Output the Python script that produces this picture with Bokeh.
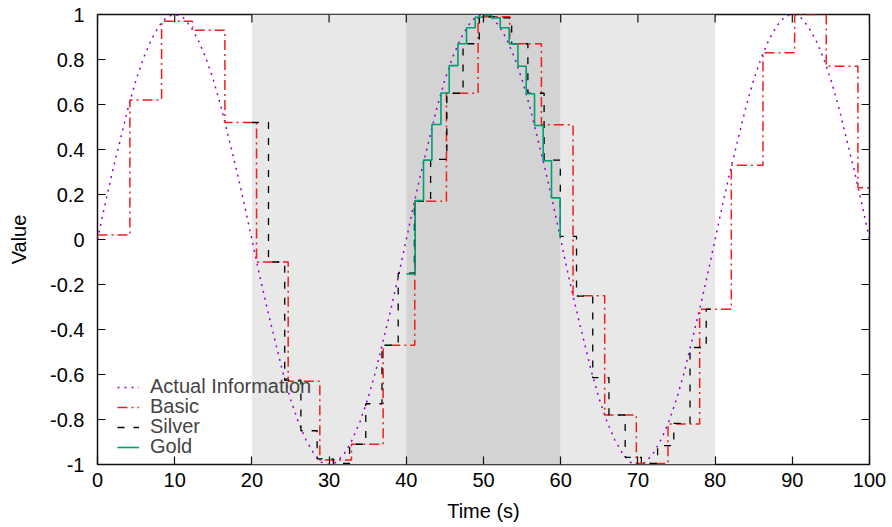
from bokeh.plotting import figure
from bokeh.models import Range1d, FixedTicker, BoxAnnotation, Legend, LegendItem
from bokeh.embed import file_html
from bokeh.resources import INLINE

# ---------------- data ----------------
actual_t = list(range(0, 101))
actual_v = [0.0, 0.16, 0.31, 0.45, 0.59, 0.71, 0.81, 0.89, 0.95, 0.99,
            1.0, 0.99, 0.95, 0.89, 0.81, 0.71, 0.59, 0.45, 0.31, 0.16,
            0.0, -0.16, -0.31, -0.45, -0.59, -0.71, -0.81, -0.89, -0.95, -0.99,
            -1.0, -0.99, -0.95, -0.89, -0.81, -0.71, -0.59, -0.45, -0.31, -0.16,
            0.0, 0.16, 0.31, 0.45, 0.59, 0.71, 0.81, 0.89, 0.95, 0.99,
            1.0, 0.99, 0.95, 0.89, 0.81, 0.71, 0.59, 0.45, 0.31, 0.16,
            0.0, -0.16, -0.31, -0.45, -0.59, -0.71, -0.81, -0.89, -0.95, -0.99,
            -1.0, -0.99, -0.95, -0.89, -0.81, -0.71, -0.59, -0.45, -0.31, -0.16,
            0.0, 0.16, 0.31, 0.45, 0.59, 0.71, 0.81, 0.89, 0.95, 0.99,
            1.0, 0.99, 0.95, 0.89, 0.81, 0.71, 0.59, 0.45, 0.31, 0.16,
            0.0]

basic_t = [0, 4.2, 8.3, 12.3, 16.5, 20.6, 24.7, 28.8, 32.9, 37.0, 41.1, 45.2,
           49.3, 53.4, 57.5, 61.6, 65.7, 69.8, 73.9, 78.0, 82.1, 86.2, 90.3,
           94.4, 98.5]
basic_v = [0.02, 0.62, 0.97, 0.93, 0.52, -0.10, -0.63, -0.98, -0.91, -0.47,
           0.17, 0.65, 0.99, 0.87, 0.51, -0.25, -0.78, -0.995, -0.82, -0.31,
           0.33, 0.83, 1.0, 0.77, 0.23]
basic_end = 100

silver_t = [20, 22.15, 24.25, 26.35, 28.45, 30.55, 32.65, 34.75, 36.85, 38.95,
            41.05, 43.15, 45.25, 47.35, 49.45, 51.55, 53.65, 55.75, 57.85,
            59.95, 62.05, 64.15, 66.25, 68.35, 70.45, 72.55, 74.65, 76.75, 78.85]
silver_v = [0.52, -0.10, -0.625, -0.85, -0.975, -0.995, -0.91, -0.73, -0.47,
            -0.15, 0.17, 0.356, 0.65, 0.87, 0.99, 0.985, 0.87, 0.65, 0.353,
            0.014, -0.252, -0.614, -0.78, -0.968, -0.995, -0.916, -0.817,
            -0.48, -0.31]
silver_end = 80

gold_t = [40, 41.15, 42.23, 43.32, 44.49, 45.56, 46.69, 47.80, 48.93, 50.00,
          51.09, 52.17, 53.33, 54.46, 55.53, 56.61, 57.73, 58.81, 59.93]
gold_v = [-0.153, 0.173, 0.353, 0.511, 0.651, 0.773, 0.870, 0.941, 0.988,
          0.996, 0.985, 0.941, 0.870, 0.770, 0.648, 0.507, 0.350, 0.185, 0.014]
gold_end = 60

# shaded zones: (start, end, colour)
zones = [(20, 40, "#e8e8e8"), (40, 60, "#d3d3d3"), (60, 80, "#e8e8e8")]

series_names = ["Actual Information", "Basic", "Silver", "Gold"]

x_ticks = [0, 10, 20, 30, 40, 50, 60, 70, 80, 90, 100]
y_ticks = [-1, -0.8, -0.6, -0.4, -0.2, 0, 0.2, 0.4, 0.6, 0.8, 1]
y_tick_labels = ["-1", "-0.8", "-0.6", "-0.4", "-0.2", "0", "0.2", "0.4", "0.6", "0.8", "1"]

FONT = "Liberation Sans"
X0, X1, Y0, Y1 = 0, 100, -1, 1

# ---------------- figure ----------------
W, H = 888, 524
ML, MR, MT, MB = 97, 19, 14, 58
p = figure(width=W, height=H, x_range=Range1d(X0, X1), y_range=Range1d(Y0, Y1),
           output_backend="svg", toolbar_location=None,
           min_border_left=ML, min_border_right=MR, min_border_top=MT, min_border_bottom=MB,
           background_fill_color="white", border_fill_color="white")
p.grid.visible = False
p.outline_line_color = "#111111"
p.outline_line_width = 1.5

for z0, z1, c in zones:
    p.add_layout(BoxAnnotation(left=z0, right=z1, fill_color=c, fill_alpha=1.0,
                               line_color=None, level="underlay"))

r_actual = p.line(actual_t, actual_v, line_color="#9400D3", line_width=1.5, line_dash="2 5")
r_basic = p.step(basic_t + [basic_end], basic_v + [basic_v[-1]], mode="after",
                 line_color="#f01e1e", line_width=1.5, line_dash="10 4 2 4")
r_silver = p.step(silver_t + [silver_end], silver_v + [silver_v[-1]], mode="after",
                  line_color="#000000", line_width=1.3, line_dash="7 9")
r_gold = p.step(gold_t + [gold_end], gold_v + [gold_v[-1]], mode="after",
                line_color="#009E73", line_width=1.6)

# mirrored inward ticks on the top and right edges (8 px long)
TICK = 8
fw, fh = W - ML - MR, H - MT - MB
dy = TICK * (Y1 - Y0) / fh
dx = TICK * (X1 - X0) / fw
p.segment(x0=x_ticks, y0=[Y1] * len(x_ticks), x1=x_ticks, y1=[Y1 - dy] * len(x_ticks),
          line_color="#111111", line_width=1.2)
p.segment(x0=[X1] * len(y_ticks), y0=y_ticks, x1=[X1 - dx] * len(y_ticks), y1=y_ticks,
          line_color="#111111", line_width=1.2)

def style_axis(ax):
    ax.axis_line_color = None
    ax.major_tick_in = TICK
    ax.major_tick_out = 0
    ax.major_tick_line_color = "#111111"
    ax.major_tick_line_width = 1.2
    ax.minor_tick_line_color = None
    ax.major_label_text_font = FONT
    ax.major_label_text_color = "black"
    ax.major_label_text_font_size = "20px"
    ax.axis_label_text_font = FONT
    ax.axis_label_text_font_size = "20px"
    ax.axis_label_text_font_style = "normal"
    ax.axis_label_text_color = "black"

xa = p.xaxis[0]
xa.ticker = FixedTicker(ticks=x_ticks)
xa.axis_label = "Time (s)"
style_axis(xa)
xa.major_label_standoff = 8
xa.axis_label_standoff = 10

ya = p.yaxis[0]
ya.ticker = FixedTicker(ticks=y_ticks)
ya.major_label_overrides = dict(zip(y_ticks, y_tick_labels))
ya.axis_label = "Value"
style_axis(ya)
ya.major_label_standoff = 13
ya.axis_label_standoff = 17

# legend: one row per series, rows 20.3 px apart, bottom row ~20 px above the frame bottom
renderers = [r_actual, r_basic, r_silver, r_gold]
ROW_H = 20.3
for i, (name, r) in enumerate(zip(series_names, renderers)):
    row_center = 17 + ROW_H * (len(renderers) - 1 - i)
    lg = Legend(items=[LegendItem(label=name, renderers=[r])],
                location=(20, round(row_center - 11.5)), orientation="vertical",
                background_fill_alpha=0, border_line_color=None,
                label_text_font=FONT, label_text_font_size="20px",
                label_height=20, glyph_height=20, glyph_width=22,
                label_standoff=11, spacing=0, padding=0, margin=0)
    p.add_layout(lg, "center")

open("out.html", "w").write(file_html(p, INLINE))
